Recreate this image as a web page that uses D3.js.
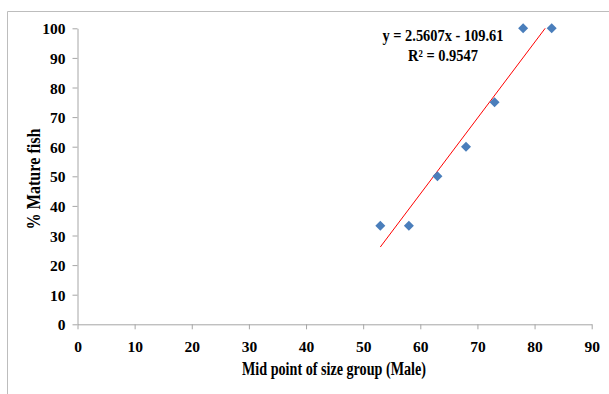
<!DOCTYPE html>
<html><head><meta charset="utf-8">
<script src="https://cdn.jsdelivr.net/npm/d3@7"></script>
<style>
html,body{margin:0;padding:0;background:#fff;}
svg text{font-family:"Liberation Serif","Times New Roman",serif;font-weight:bold;fill:#000;}
</style></head>
<body>
<svg id="chart" width="609" height="394"></svg>
<script>
// Data
const sizeGroups = [53, 58, 63, 68, 73, 78, 83];
const pctMature = [33.3, 33.3, 50, 60, 75, 100, 100];
const xTicks = [0, 10, 20, 30, 40, 50, 60, 70, 80, 90];
const yTicks = [0, 10, 20, 30, 40, 50, 60, 70, 80, 90, 100];
const slope = 2.5607, intercept = -109.61;
const equationLines = ["y = 2.5607x - 109.61", "R\u00B2 = 0.9547"];
const trendRange = [53, (100 - intercept) / slope];

(function () {
const svg = d3.select("#chart");
const mLeft = 77.5, mRight = 591.7, mTop = 28.3, mBottom = 324.3;
const x = d3.scaleLinear().domain([0, 90]).range([mLeft, mRight]);
const y = d3.scaleLinear().domain([0, 100]).range([mBottom, mTop]);

// outer border (partially visible)
svg.append("path").attr("d", "M7.5,394 L7.5,11.5 L609,11.5")
  .attr("fill", "none").attr("stroke", "#bdbdbd").attr("stroke-width", 1);

const axisColor = "#a6a6a6";
const xAxis = svg.append("g").attr("transform", `translate(0,${mBottom})`)
  .call(d3.axisBottom(x).tickValues(xTicks).tickSize(5).tickSizeOuter(0).tickPadding(12));
const yAxis = svg.append("g").attr("transform", `translate(${mLeft},0)`)
  .call(d3.axisLeft(y).tickValues(yTicks).tickSize(5).tickSizeOuter(0).tickPadding(7));
[xAxis, yAxis].forEach(g => {
  g.selectAll("path,line").attr("stroke", axisColor);
  g.selectAll("text").style("font-size", "15.5px").style("font-family", "'Liberation Serif',serif").style("font-weight", "bold").attr("fill", "#000");
});
xAxis.selectAll("text").attr("dy", "0.71em");
yAxis.selectAll("text").attr("dy", "0.36em");

// axis titles (condensed, as in the reference)
svg.append("text").attr("x", 334).attr("y", 375).attr("text-anchor", "middle")
  .style("font-size", "18px")
  .attr("textLength", 184).attr("lengthAdjust", "spacingAndGlyphs")
  .text("Mid point of size group (Male)");
svg.append("text").attr("transform", `translate(40,179) rotate(-90)`)
  .attr("text-anchor", "middle").style("font-size", "18px")
  .attr("textLength", 101).attr("lengthAdjust", "spacingAndGlyphs")
  .text("% Mature fish");

// trend line
svg.append("line")
  .attr("x1", x(trendRange[0])).attr("y1", y(slope * trendRange[0] + intercept))
  .attr("x2", x(trendRange[1])).attr("y2", y(slope * trendRange[1] + intercept))
  .attr("stroke", "#ff0000").attr("stroke-width", 1);

// points (diamonds)
const r = 5;
svg.append("g").selectAll("path").data(sizeGroups.map((d, i) => [d, pctMature[i]]))
  .join("path")
  .attr("d", d => `M${x(d[0])},${y(d[1]) - r} L${x(d[0]) + r},${y(d[1])} L${x(d[0])},${y(d[1]) + r} L${x(d[0]) - r},${y(d[1])} Z`)
  .attr("fill", "#4a7ebb");

// equation
const eqLens = [121, 70];
svg.append("g").selectAll("text").data(equationLines).join("text")
  .attr("x", 443).attr("y", (d, i) => 41 + i * 19.5).attr("text-anchor", "middle")
  .style("font-size", "16px")
  .attr("textLength", (d, i) => eqLens[i]).attr("lengthAdjust", "spacingAndGlyphs")
  .text(d => d);
})();
</script>
</body></html>
